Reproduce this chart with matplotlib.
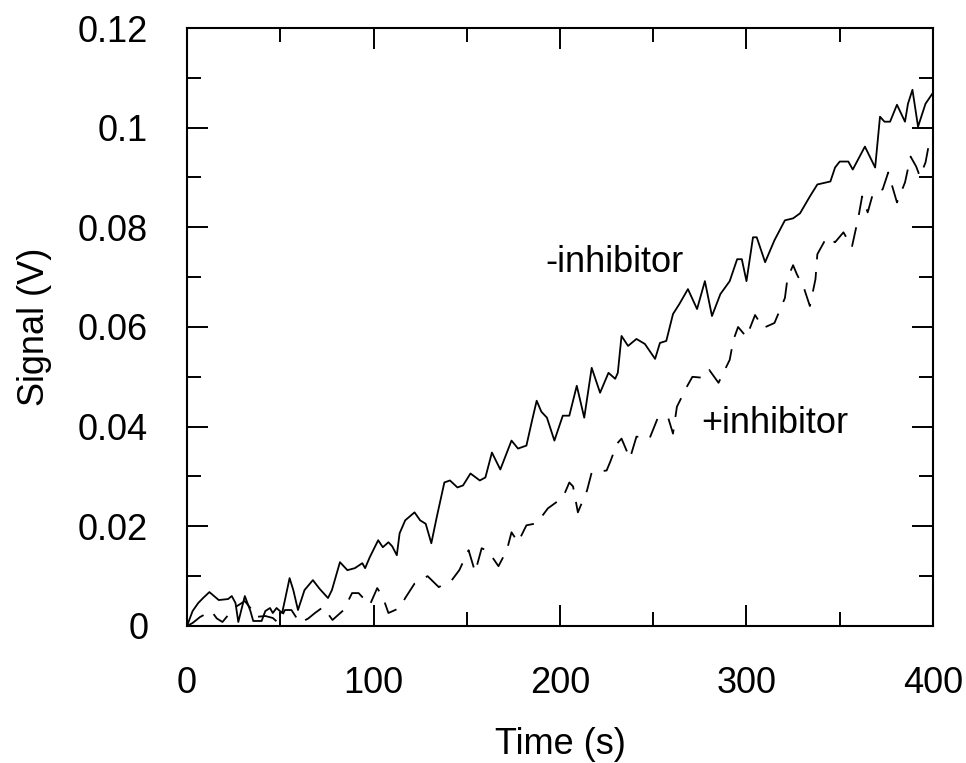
import matplotlib
matplotlib.use('Agg')
import matplotlib.pyplot as plt
from matplotlib.ticker import MultipleLocator, FormatStrFormatter

# -inhibitor (solid)
t_minus = [0, 3, 6, 8.6, 12, 17, 22, 24, 26, 27.5, 31, 34, 35.5, 40, 42, 44.5, 46, 48, 51,
           52.5, 55, 57, 59.5, 63, 67.5, 71, 75.6, 77.7, 82, 86, 90, 94, 95.5, 98, 102.5,
           105, 108, 110, 112.5, 114, 117, 122, 125, 128, 131, 134, 138, 141, 145, 148,
           152, 157, 160, 163.5, 168, 174, 177.5, 182, 185, 187.5, 190, 193, 197, 201.5,
           205, 209, 213, 217, 221.5, 226, 229.6, 231, 233, 236.5, 241, 245.5, 251, 253.6,
           257, 260.6, 264, 268.6, 273.5, 277.7, 281.5, 286, 291, 295, 297.5, 300, 303.5,
           305.5, 310, 315, 320.6, 325, 328.7, 334, 338, 345, 347.5, 350, 354.6, 357,
           363.5, 369, 371.6, 374, 377, 380.7, 385, 386.6, 389, 392, 396, 400]
v_minus = [0.0, 0.003, 0.0046, 0.0056, 0.0068, 0.0052, 0.0054, 0.006, 0.0046, 0.0008,
           0.006, 0.003, 0.001, 0.001, 0.003, 0.0036, 0.0026, 0.0036, 0.0026, 0.0052,
           0.0096, 0.0072, 0.0032, 0.0072, 0.0092, 0.0075, 0.0056, 0.0072, 0.0128, 0.0112,
           0.0116, 0.0126, 0.0116, 0.0138, 0.0172, 0.0158, 0.0168, 0.016, 0.0142, 0.0186,
           0.0212, 0.0228, 0.0212, 0.0205, 0.0166, 0.022, 0.0288, 0.0292, 0.0278, 0.0282,
           0.0306, 0.0292, 0.0298, 0.0348, 0.0314, 0.0372, 0.0356, 0.0362, 0.0412, 0.0452,
           0.043, 0.0418, 0.0372, 0.0422, 0.0422, 0.0482, 0.0418, 0.0518, 0.0468, 0.0508,
           0.0496, 0.0508, 0.0582, 0.0562, 0.0576, 0.0566, 0.0536, 0.0568, 0.0572, 0.0626,
           0.0646, 0.0676, 0.0636, 0.0692, 0.0622, 0.0666, 0.0692, 0.0736, 0.0736, 0.0692,
           0.078, 0.078, 0.073, 0.0774, 0.0814, 0.0818, 0.0828, 0.0862, 0.0886, 0.0892,
           0.092, 0.0932, 0.0932, 0.0916, 0.0962, 0.092, 0.1022, 0.1012, 0.1012, 0.1046,
           0.1012, 0.1048, 0.1076, 0.1002, 0.1048, 0.107]

# +inhibitor (dashed)
t_plus = [0, 3, 7, 11, 13, 16, 19, 23, 26, 31, 34, 36.5, 42, 46, 49, 52.5, 56, 60.5, 65,
          68.6, 73, 78, 84, 88.5, 92, 98, 102, 105, 108, 114, 117, 122, 129, 135, 142, 146,
          151, 154.5, 158, 161.5, 167, 171.5, 174, 177.5, 182, 187.5, 193.5, 201.6, 205,
          207, 209.6, 214.5, 217, 221, 225, 227, 230.6, 233, 237.5, 241, 248, 252.5, 258,
          260.6, 262.7, 268, 271, 277, 280, 285, 291, 293, 295.5, 300, 304.6, 309, 315,
          320.6, 322, 325, 327, 331, 334, 337, 338, 343, 347.5, 352, 356.5, 360, 362, 365,
          368, 373, 376, 380.7, 385, 388, 391, 393, 396, 398, 400]
v_plus = [0.0, 0.0006, 0.0018, 0.0026, 0.003, 0.0015, 0.0008, 0.0026, 0.0038, 0.005,
          0.0036, 0.0018, 0.002, 0.0016, 0.0006, 0.0032, 0.0032, 0.0006, 0.0015, 0.0026,
          0.0038, 0.0012, 0.0032, 0.0066, 0.0066, 0.0042, 0.0076, 0.0058, 0.0026, 0.0036,
          0.0056, 0.0085, 0.01, 0.0078, 0.0092, 0.0112, 0.0152, 0.0108, 0.0156, 0.015,
          0.012, 0.0152, 0.0188, 0.0168, 0.0202, 0.0206, 0.0236, 0.0258, 0.0288, 0.028,
          0.0228, 0.0272, 0.0308, 0.031, 0.0312, 0.033, 0.0366, 0.0376, 0.0336, 0.038,
          0.0376, 0.0418, 0.0418, 0.0386, 0.044, 0.048, 0.05, 0.0498, 0.0514, 0.0488,
          0.0534, 0.0574, 0.06, 0.058, 0.0624, 0.0598, 0.0608, 0.0658, 0.0698, 0.0724,
          0.0706, 0.0676, 0.0642, 0.0696, 0.0746, 0.078, 0.077, 0.079, 0.076, 0.082,
          0.0862, 0.083, 0.087, 0.0876, 0.091, 0.085, 0.089, 0.0942, 0.0922, 0.0902,
          0.093, 0.097, 0.098]

plt.rcParams['font.family'] = ['Liberation Sans', 'DejaVu Sans']

fig = plt.figure(figsize=(9.66, 7.63), dpi=100)
ax = fig.add_axes([0.1936, 0.1796, 0.7722, 0.7837])

ax.plot(t_minus, v_minus, color='black', lw=1.3)
dashed, = ax.plot(t_plus, v_plus, color='black', lw=1.3)
dashed.set_dashes([11, 7])

ax.set_xlim(0, 400)
ax.set_ylim(0, 0.12)
ax.xaxis.set_major_locator(MultipleLocator(100))
ax.xaxis.set_minor_locator(MultipleLocator(50))
ax.yaxis.set_major_locator(MultipleLocator(0.02))
ax.yaxis.set_minor_locator(MultipleLocator(0.01))
ax.yaxis.set_major_formatter(FormatStrFormatter('%g'))

ax.tick_params(which='both', direction='in', top=True, right=True, width=1.4, color='black')
ax.tick_params(which='major', length=15)
ax.tick_params(which='minor', length=10)
ax.tick_params(axis='x', which='major', pad=29, labelsize=26)
ax.tick_params(axis='y', which='major', pad=28, labelsize=26)
for s in ax.spines.values():
    s.set_linewidth(1.5)

ax.set_xlabel('Time (s)', fontsize=26)
ax.xaxis.set_label_coords(0.5, -0.169)
ax.set_ylabel('Signal (V)', fontsize=26)
ax.yaxis.label.set_verticalalignment('center')
ax.yaxis.set_label_coords(-0.205, 0.5)

ax.text(192, 0.0710, '-inhibitor', fontsize=26, va='baseline', ha='left')
ax.text(276, 0.0387, '+inhibitor', fontsize=26, va='baseline', ha='left')

fig.savefig('out.png', dpi=100)
